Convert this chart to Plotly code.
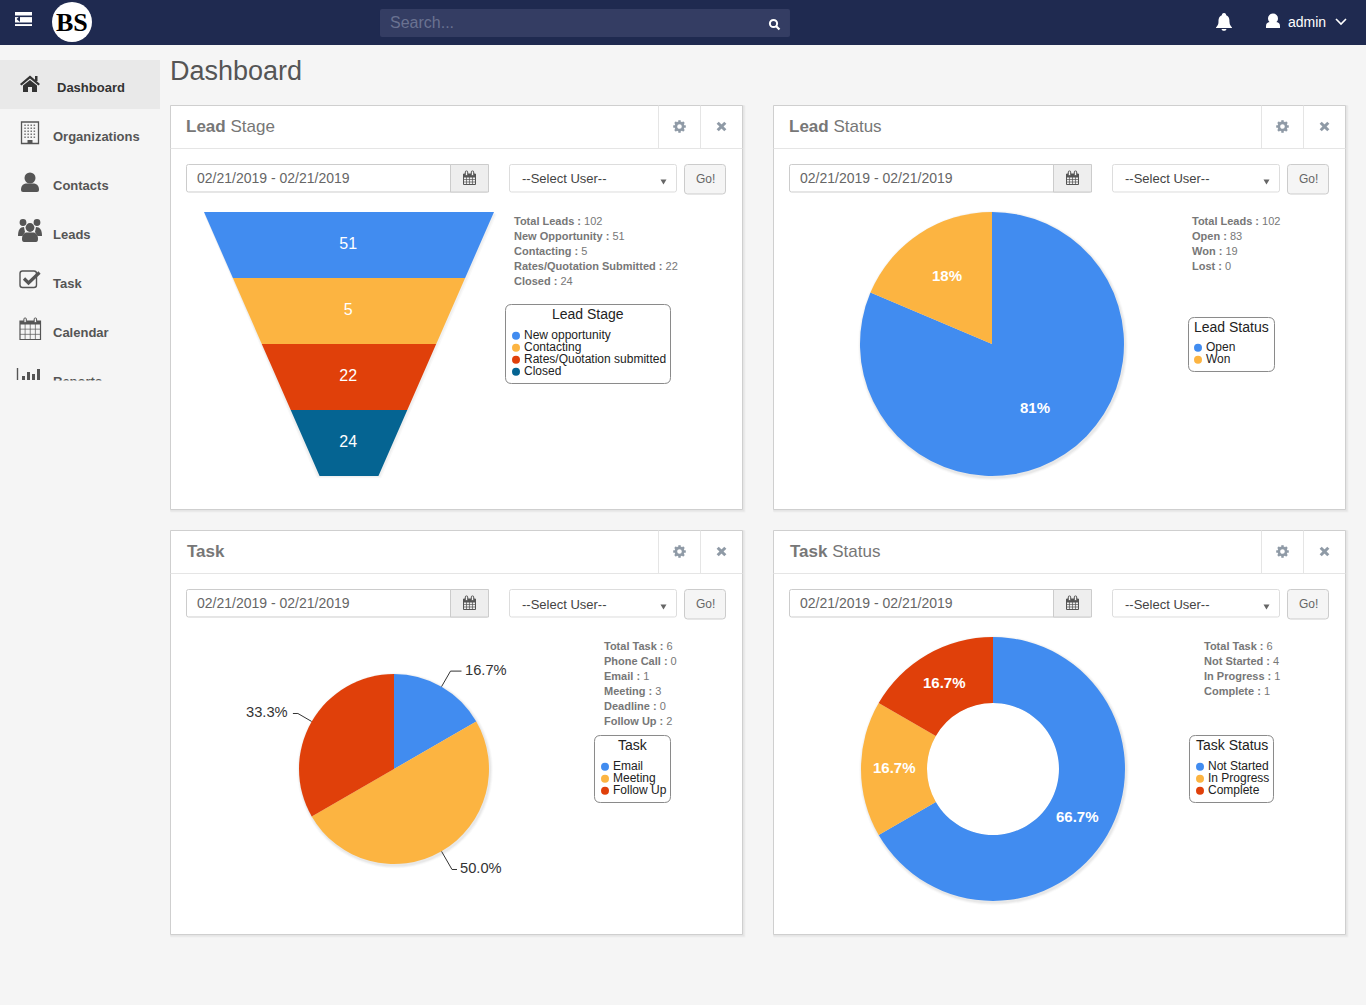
import math
import re
import plotly.graph_objects as go

W, H = 1366, 1005

# colours of the dashboard
BLUE, ORANGE, RED, NAVY = "#418CF0", "#FCB441", "#E0400A", "#056492"
PALETTE = [BLUE, ORANGE, RED, NAVY]
FONT = "Liberation Sans"

# data
lead_stage_labels = ["New opportunity", "Contacting", "Rates/Quotation submitted", "Closed"]
lead_stage_values = [51, 5, 22, 24]
lead_status_labels = ["Open", "Won"]
lead_status_values = [83, 19]
lead_status_text = ["81%", "18%"]
task_labels = ["Email", "Meeting", "Follow Up"]
task_values = [1, 3, 2]
task_status_labels = ["Not Started", "In Progress", "Complete"]
task_status_values = [4, 1, 1]

lead_stage_stats = [("Total Leads", 102), ("New Opportunity", 51), ("Contacting", 5),
                    ("Rates/Quotation Submitted", 22), ("Closed", 24)]
lead_status_stats = [("Total Leads", 102), ("Open", 83), ("Won", 19), ("Lost", 0)]
task_stats = [("Total Task", 6), ("Phone Call", 0), ("Email", 1), ("Meeting", 3),
              ("Deadline", 0), ("Follow Up", 2)]
task_status_stats = [("Total Task", 6), ("Not Started", 4), ("In Progress", 1), ("Complete", 1)]

menu_items = ["Dashboard", "Organizations", "Contacts", "Leads", "Task", "Calendar", "Reports"]
date_range = "02/21/2019 - 02/21/2019"

shapes = []
notes = []


def fx(x):
    return x / W


def fy(y):
    return 1 - y / H


def P(d):
    # pixel path -> paper path
    out, is_x = [], True
    for tok in re.findall(r"[A-Za-z]|-?[\d.]+", d):
        if tok.isalpha():
            out.append(tok)
            is_x = True
        else:
            out.append(f"{fx(float(tok)):.5f}" if is_x else f"{fy(float(tok)):.5f}")
            is_x = not is_x
    return " ".join(out)


def path(d, fill="rgba(0,0,0,0)", line=None, lw=0):
    shapes.append(dict(type="path", path=P(d), xref="paper", yref="paper", layer="below",
                       fillcolor=fill, line=dict(color=line or "rgba(0,0,0,0)", width=lw)))


def rect(x0, y0, x1, y1, fill="rgba(0,0,0,0)", line=None, lw=0):
    shapes.append(dict(type="rect", x0=fx(x0), x1=fx(x1), y0=fy(y0), y1=fy(y1), xref="paper", yref="paper",
                       layer="below", fillcolor=fill, line=dict(color=line or "rgba(0,0,0,0)", width=lw)))


def circle(cx, cy, r, fill="rgba(0,0,0,0)", line=None, lw=0):
    shapes.append(dict(type="circle", x0=fx(cx - r), x1=fx(cx + r), y0=fy(cy - r), y1=fy(cy + r),
                       xref="paper", yref="paper", layer="below", fillcolor=fill,
                       line=dict(color=line or "rgba(0,0,0,0)", width=lw)))


def rrect(x0, y0, x1, y1, r, fill="rgba(0,0,0,0)", line=None, lw=0):
    d = (f"M {x0 + r} {y0} L {x1 - r} {y0} Q {x1} {y0} {x1} {y0 + r} L {x1} {y1 - r} Q {x1} {y1} {x1 - r} {y1} "
         f"L {x0 + r} {y1} Q {x0} {y1} {x0} {y1 - r} L {x0} {y0 + r} Q {x0} {y0} {x0 + r} {y0} Z")
    path(d, fill, line, lw)


def txt(x, y, s, size=12, color="#555555", anchor="left", family=FONT):
    # annotations sit about a pixel right of the asked spot when left aligned
    if anchor == "left":
        x -= 1.3
    notes.append(dict(x=fx(x), y=fy(y), xref="paper", yref="paper", text=s, showarrow=False,
                      xanchor=anchor, yanchor="middle", borderpad=0,
                      font=dict(size=size, color=color, family=family)))


def calendar(x0, y0, x1, y1, color, lw=1):
    rect(x0, y0 + 2, x1, y1, line=color, lw=lw)
    rect(x0, y0 + 2, x1, y0 + 5.5, fill=color)
    cols = 4
    rows = 3
    for i in range(1, cols):
        xx = x0 + (x1 - x0) * i / cols
        path(f"M {xx} {y0 + 5} L {xx} {y1}", line=color, lw=0.7)
    for j in range(1, rows):
        yy = y0 + 5 + (y1 - y0 - 5) * j / rows
        path(f"M {x0} {yy} L {x1} {yy}", line=color, lw=0.7)
    for xx in (x0 + (x1 - x0) * 0.25, x0 + (x1 - x0) * 0.75):
        rrect(xx - 1.2, y0 - 1, xx + 1.2, y0 + 3.5, 1, fill="#f5f5f5", line=color, lw=1)


def gear(cx, cy):
    color = "#8f9aa6"
    for k in range(8):
        a = k * math.pi / 4
        path(f"M {cx + 3.5 * math.cos(a):.2f} {cy + 3.5 * math.sin(a):.2f} L {cx + 6.3 * math.cos(a):.2f} {cy + 6.3 * math.sin(a):.2f}",
             line=color, lw=2.4)
    circle(cx, cy, 3.6, line=color, lw=2.6)


def cross(cx, cy):
    color = "#8f9aa6"
    d = 3.8
    path(f"M {cx - d} {cy - d} L {cx + d} {cy + d}", line=color, lw=3)
    path(f"M {cx + d} {cy - d} L {cx - d} {cy + d}", line=color, lw=3)


def panel(x0, y0, title, stats, stats_x, legend_title, legend_labels, box, dot_x, select_y):
    x1, y1 = x0 + 572, y0 + 404
    for k, a in ((2, 0.025), (1, 0.04)):
        rect(x0 - 1 + k / 2, y0 - 1 + k / 2, x1 + 1 + k, y1 + 1 + k, fill=f"rgba(0,0,0,{a})")
    rect(x0, y0, x1, y1, fill="#ffffff", line="#cfcfcf", lw=1)
    path(f"M {x0} {y0 + 43} L {x1} {y0 + 43}", line="#e5e5e5", lw=1)
    path(f"M {x0 + 488} {y0} L {x0 + 488} {y0 + 43}", line="#e5e5e5", lw=1)
    path(f"M {x0 + 530} {y0} L {x0 + 530} {y0 + 43}", line="#e5e5e5", lw=1)
    gear(x0 + 509, y0 + 21)
    cross(x0 + 551, y0 + 21)
    txt(x0 + title[2], y0 + 21, title[0] + title[1], size=17, color="#777777")

    # date range, user select and button
    top = y0 + 59
    rrect(x0 + 16, top, x0 + 318, top + 27.5, 2, fill="#ffffff", line="#cccccc", lw=1)
    rect(x0 + 280, top, x0 + 318, top + 27.5, fill="#eeeeee", line="#cccccc", lw=1)
    calendar(x0 + 293, top + 7.5, x0 + 305, top + 20, "#555555")
    txt(x0 + 26.5, top + 13.5, date_range, size=14, color="#666666")
    rrect(x0 + 339, top, x0 + 506, top + 27.5, 2, fill="#ffffff", line="#dddddd", lw=1)
    txt(x0 + 351.5, select_y, "--Select User--", size=13, color="#444444")
    path(f"M {x0 + 490} {top + 15} L {x0 + 496} {top + 15} L {x0 + 493} {top + 20} Z", fill="#666666")
    rrect(x0 + 514, top, x0 + 555, top + 29.5, 3, fill="#f5f5f5", line="#cccccc", lw=1)
    txt(x0 + 534.5, top + 14, "Go!", size=12, color="#666666", anchor="center")

    # stats list
    for k, (name, value) in enumerate(stats):
        txt(stats_x, y0 + 115.7 + 15 * k, f"<b>{name} :</b> {value}", size=11, color="#777777")

    # legend
    bx0, by0, bx1, by1 = box
    rrect(bx0, by0, bx1, by1, 6, fill="#ffffff", line="#8a8a8a", lw=1)
    txt((bx0 + bx1) / 2, by0 + 9.7, legend_title, size=14, color="#222222", anchor="center")
    for k, label in enumerate(legend_labels):
        yy = by1 - 12 - 12 * (len(legend_labels) - 1 - k)
        circle(dot_x, yy + 0.2, 4, fill=PALETTE[k])
        txt(dot_x + 8, yy - 0.7, label, size=12, color="#222222")


def pie_shadow(cx, cy, r):
    for k, a in ((3, 0.02), (2, 0.03), (1, 0.04)):
        circle(cx + 1, cy + 1.5, r + k, fill=f"rgba(0,0,0,{a})")


def pie_trace(labels, values, cx, cy, r, hole=0):
    return go.Pie(labels=labels, values=values, hole=hole, sort=False, direction="clockwise", rotation=0,
                  textinfo="none", marker=dict(colors=PALETTE[:len(values)], line=dict(width=0)),
                  domain=dict(x=[fx(cx - r), fx(cx + r)], y=[fy(cy + r), fy(cy - r)]), showlegend=False)


def slice_mids(values):
    total = sum(values)
    run = 0
    mids = []
    for v in values:
        mids.append((run + v / 2) / total * 2 * math.pi)
        run += v
    return mids


# page frame
rect(0, 0, W, 45, fill="#1f2a50")
rect(0, 60, 160, 109, fill="#e9e9e9")

# hamburger
rect(15, 12, 32, 26, fill="#ffffff")
for yy in (15.5, 22.5):
    rect(15, yy, 32, yy + 1.6, fill="#1f2a50")
path("M 20 16 L 16.5 19 L 20 22 Z", fill="#1f2a50")

# logo
circle(72, 22, 20, fill="#ffffff")
txt(72, 22.5, "<b>BS</b>", size=26, color="#000000", anchor="center", family="Liberation Serif")

# search
rrect(380, 9, 790, 37, 2, fill="#343d63")
txt(390, 22.5, "Search...", size=16, color="#6a7291")
circle(773.5, 23.5, 3.6, line="#ffffff", lw=2)
path("M 776 26 L 779.5 29.5", line="#ffffff", lw=2.2)

# bell, user, chevron
path("M 1224 13 C 1226 13 1226 15 1226.5 15.5 C 1229.5 16.5 1229.5 20 1229.5 22 C 1229.5 25 1231 26 1232 27.5 "
     "L 1232 28 L 1216 28 L 1216 27.5 C 1217 26 1218.5 25 1218.5 22 C 1218.5 20 1218.5 16.5 1221.5 15.5 C 1222 15 1222 13 1224 13 Z",
     fill="#ffffff")
path("M 1221.5 29 L 1226.5 29 C 1226 31.5 1222 31.5 1221.5 29 Z", fill="#ffffff")
circle(1273, 18.5, 5, fill="#ffffff")
path("M 1266 28 L 1266 26 C 1266 23 1268 22 1270 22 L 1276 22 C 1278 22 1280 23 1280 26 L 1280 28 Z", fill="#ffffff")
txt(1288, 22, "admin", size=14, color="#ffffff")
path("M 1336 19 L 1341 24 L 1346 19", line="#ffffff", lw=1.6)

# sidebar icons
DARK = "#555555"
path("M 20 84 L 30 75.5 L 40 84 L 38.5 85.5 L 30 78.5 L 21.5 85.5 Z", fill="#333333")
rect(35, 76, 37.5, 81, fill="#333333")
path("M 23 85.5 L 30 80 L 37 85.5 L 37 92 L 32 92 L 32 87 L 28 87 L 28 92 L 23 92 Z", fill="#333333")

rect(21.5, 122, 38.5, 143.5, line=DARK, lw=1.3)
for r_ in range(5):
    for c_ in range(4):
        rect(24.3 + c_ * 3.1, 124.5 + r_ * 3, 25.8 + c_ * 3.1, 126 + r_ * 3, fill="#777777")
rect(27.5, 140, 32.5, 143.5, fill=DARK)

circle(30, 178, 5.5, fill=DARK)
path("M 21 190 C 21 185 24 183.5 27 183.5 L 33 183.5 C 36 183.5 39 185 39 190 Q 39 192 37 192 L 23 192 Q 21 192 21 190 Z", fill=DARK)

circle(23, 222.5, 3.4, fill=DARK)
circle(37, 222.5, 3.4, fill=DARK)
circle(30, 227.5, 4.4, fill=DARK)
path("M 18 236 C 18 230 20 227 24 227 L 25 232 L 22.5 236 Z", fill=DARK)
path("M 42 236 C 42 230 40 227 36 227 L 35 232 L 37.5 236 Z", fill=DARK)
path("M 22 239 C 22 235 24 232.5 27 232.5 L 33 232.5 C 36 232.5 38 235 38 239 Q 38 242 36 242 L 24 242 Q 22 242 22 239 Z", fill=DARK)

rrect(20, 271, 36.5, 287.5, 2.5, line=DARK, lw=1.4)
path("M 24 278.5 L 28.5 283 L 39.5 272.5", line=DARK, lw=3.2)

calendar(20, 319, 40.5, 339.5, DARK, lw=1.2)

path("M 17.5 368 L 17.5 380", line=DARK, lw=1.4)
for bx, by in ((22, 376), (27, 372), (32, 374), (37, 369)):
    rect(bx, by, bx + 3, 380, fill=DARK)

# sidebar labels
txt(57, 87, f"<b>{menu_items[0]}</b>", size=13, color="#333333")
for name, yy in zip(menu_items[1:], (136, 185.5, 234.5, 283, 332, 381)):
    txt(53, yy, f"<b>{name}</b>", size=13, color="#555555")
# the menu is cut off here
notes.append(dict(x=fx(0), y=fy(380), xref="paper", yref="paper", text=" ", showarrow=False, xanchor="left",
                  yanchor="top", width=160, height=14, bgcolor="#f5f5f5", borderpad=0))

txt(170, 71, "Dashboard", size=27, color="#555555")

# panels
panel(170.5, 105.5, ("<b>Lead</b>", " Stage", 15.5), lead_stage_stats, 514, "Lead Stage", lead_stage_labels,
      (505.5, 304.5, 670.5, 383.5), 516, 178.7)
panel(773.5, 105.5, ("<b>Lead</b>", " Status", 15.5), lead_status_stats, 1192, "Lead Status", lead_status_labels,
      (1188.5, 317.5, 1274.5, 371.5), 1198, 178.7)
panel(170.5, 530.5, ("<b>Task</b>", "", 16.5), task_stats, 604, "Task", task_labels,
      (594.5, 735.5, 670.5, 802.5), 605, 604)
panel(773.5, 530.5, ("<b>Task</b>", " Status", 16.5), task_status_stats, 1204, "Task Status", task_status_labels,
      (1189.5, 735.5, 1273.5, 802.5), 1200, 604)

# funnel: equal height bands between a wide top and a narrow neck
FUN_TOP, FUN_BOTTOM, FUN_CX, FUN_HALF, NECK = 212, 476, 349, 145, 0.203
band_h = (FUN_BOTTOM - FUN_TOP) / len(lead_stage_values)
n_bands = len(lead_stage_values)


def half(i):
    return 1 - i * (1 - NECK) / n_bands


traces = []
for dx, dy, a in ((0.02, 0.035, 0.025), (0.012, 0.02, 0.035)):
    traces.append(go.Scatter(x=[-half(0), half(0) + dx, half(n_bands) + dx, -half(n_bands) - dx],
                             y=[dy, dy, n_bands + dy, n_bands + dy], fill="toself", mode="lines",
                             line=dict(width=0), fillcolor=f"rgba(0,0,0,{a})", hoverinfo="skip", showlegend=False))
for i, (label, value) in enumerate(zip(lead_stage_labels, lead_stage_values)):
    traces.append(go.Scatter(x=[-half(i), half(i), half(i + 1), -half(i + 1)], y=[i, i, i + 1, i + 1],
                             fill="toself", mode="lines", name=label, line=dict(width=0),
                             fillcolor=PALETTE[i], text=[str(value)] * 4, hoverinfo="name+text", showlegend=False))
traces.append(go.Scatter(x=[-0.005] * n_bands, y=[i + 0.5 for i in range(n_bands)], mode="text",
                         text=[str(v) for v in lead_stage_values], textposition="middle center",
                         textfont=dict(size=16, color="#ffffff", family=FONT), hoverinfo="skip", showlegend=False))

# pies
pie_shadow(992, 344, 132)
pie_shadow(394, 769, 95)
pie_shadow(993, 769, 132)
circle(993, 769, 66, fill="#ffffff")
traces.append(pie_trace(lead_status_labels, lead_status_values, 992, 344, 132))
traces.append(pie_trace(task_labels, task_values, 394, 769, 95))
traces.append(pie_trace(task_status_labels, task_status_values, 993, 769, 132, hole=0.5))

for text, mid, rad in zip(lead_status_text, slice_mids(lead_status_values), (77, 81)):
    txt(992 + rad * math.sin(mid), 343.5 - rad * math.cos(mid), f"<b>{text}</b>", size=15, color="#ffffff", anchor="center")

total = sum(task_status_values)
for v, mid in zip(task_status_values, slice_mids(task_status_values)):
    txt(993 + 98 * math.sin(mid), 769 - 98 * math.cos(mid) - 1.5, f"<b>{v / total:.1%}</b>", size=15, color="#ffffff", anchor="center")

# leader lines of the task pie
total = sum(task_values)
for v, mid, stub, reach in zip(task_values, slice_mids(task_values), (11, 5, 5), (113, 116, 111)):
    sx, sy = math.sin(mid), -math.cos(mid)
    px0, py0 = 394 + 95 * sx, 769 + 95 * sy
    px1, py1 = 394 + reach * sx, 769 + reach * sy
    side = 1 if sx > 0 else -1
    px2 = px1 + side * stub
    path(f"M {px0:.1f} {py0:.1f} L {px1:.1f} {py1:.1f} L {px2:.1f} {py1:.1f}", line="#333333", lw=1)
    txt(px2 + (3.5 if side > 0 else -4), py1 - 1.5, f"{v / total:.1%}", size=14.7, color="#333333", anchor="left" if side > 0 else "right")

fig = go.Figure(traces)
fig.update_layout(
    width=W, height=H, margin=dict(l=0, r=0, t=0, b=0), autosize=False,
    paper_bgcolor="#f5f5f5", plot_bgcolor="rgba(0,0,0,0)", showlegend=False,
    font=dict(family=FONT),
    shapes=shapes, annotations=notes,
    xaxis=dict(domain=[fx(190), fx(510)], range=[(190 - FUN_CX) / FUN_HALF, (510 - FUN_CX) / FUN_HALF], visible=False),
    yaxis=dict(domain=[fy(490), fy(200)], range=[(490 - FUN_TOP) / band_h, (200 - FUN_TOP) / band_h], visible=False),
)

fig.write_html("out.html", config=dict(displayModeBar=False),
               post_script="document.body.style.margin='0';document.body.style.overflow='hidden';")
